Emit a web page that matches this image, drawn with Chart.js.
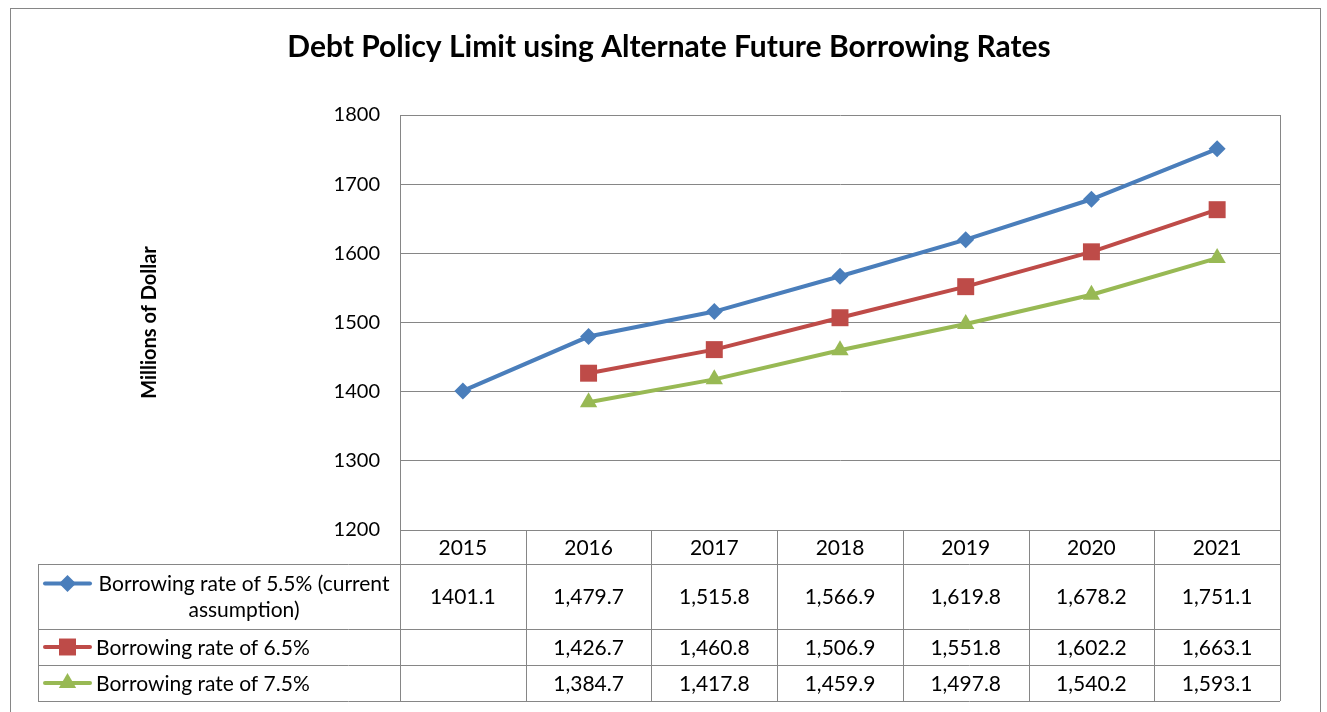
<!DOCTYPE html>
<html lang="en">
<head>
<meta charset="utf-8">
<title>Debt Policy Limit</title>
<script src="https://cdn.jsdelivr.net/npm/chart.js@4"></script>
<style>
  html, body { margin: 0; padding: 0; background: #fff; }
  #lienzo { width: 1327px; height: 712px; position: relative; }
</style>
</head>
<body>
<div id="lienzo"><canvas id="grafica"></canvas></div>
<script>
// ===== Datos =====
const anios = ["2015", "2016", "2017", "2018", "2019", "2020", "2021"];
const tasa55 = [1401.1, 1479.7, 1515.8, 1566.9, 1619.8, 1678.2, 1751.1];
const tasa65 = [null, 1426.7, 1460.8, 1506.9, 1551.8, 1602.2, 1663.1];
const tasa75 = [null, 1384.7, 1417.8, 1459.9, 1497.8, 1540.2, 1593.1];
const nombres = [
  "Borrowing rate of 5.5% (current assumption)",
  "Borrowing rate of 6.5%",
  "Borrowing rate of 7.5%"
];
const ejeMin = 1200;
const ejeMax = 1800;
const ejePaso = 100;
// la celda de 2015 viene sin separador de miles en la hoja original
const sinComa = [[0, 0]];

// ===== Estilos =====
const FUENTE = "Lato, 'Noto Sans', sans-serif";
const GRIS = "#868686";
const colores = ["#4a7ebb", "#be4b48", "#98b954"];
const marcadores = ["rectRot", "rect", "triangle"];
const radios = [8.5, 12, 10];

function formato(v, serie, col) {
  if (v === null) return "";
  const plano = sinComa.some(([s, c]) => s === serie && c === col);
  return plano ? v.toFixed(1) : v.toLocaleString("en-US", { minimumFractionDigits: 1, maximumFractionDigits: 1 });
}

// marcador de la leyenda, dibujado a mano
function dibujarMarcador(ctx, tipo, x, y, r, color) {
  ctx.save();
  ctx.fillStyle = color;
  ctx.beginPath();
  if (tipo === "rectRot") {
    ctx.moveTo(x, y - r); ctx.lineTo(x + r, y); ctx.lineTo(x, y + r); ctx.lineTo(x - r, y);
  } else if (tipo === "rect") {
    const s = r * Math.SQRT1_2;
    ctx.rect(x - s, y - s, 2 * s, 2 * s);
  } else {
    const h = r * Math.sqrt(3) / 2;
    ctx.moveTo(x, y - r); ctx.lineTo(x + h, y + r / 2); ctx.lineTo(x - h, y + r / 2);
  }
  ctx.closePath();
  ctx.fill();
  ctx.restore();
}

function partirTexto(ctx, texto, ancho) {
  const palabras = texto.split(" ");
  const lineas = [];
  let actual = "";
  palabras.forEach(p => {
    const prueba = actual ? actual + " " + p : p;
    if (ctx.measureText(prueba).width > ancho && actual) {
      lineas.push(actual);
      actual = p;
    } else {
      actual = prueba;
    }
  });
  lineas.push(actual);
  return lineas;
}

// ===== Marco exterior =====
const marco = {
  id: "marco",
  beforeDraw(chart) {
    const ctx = chart.ctx;
    ctx.save();
    ctx.strokeStyle = GRIS;
    ctx.lineWidth = 1;
    ctx.strokeRect(10.5, 8.5, 1310, 720);
    ctx.restore();
  }
};

// ===== Tabla de datos bajo el gráfico =====
const tablaDatos = {
  id: "tablaDatos",
  afterDraw(chart) {
    const ctx = chart.ctx;
    const area = chart.chartArea;
    const ejeX = chart.scales.x;
    const n = anios.length;
    const ancho = (area.right - area.left) / n;
    const altos = [34, 65, 36, 36];
    const filas = [Math.round(area.bottom)];
    altos.forEach(h => filas.push(filas[filas.length - 1] + h));
    const izqLeyenda = 38;
    const fondo = filas[filas.length - 1];

    ctx.save();
    ctx.strokeStyle = GRIS;
    ctx.lineWidth = 1;
    ctx.beginPath();
    // borde derecho del área de trazado
    ctx.moveTo(Math.round(area.right) + 0.5, area.top);
    ctx.lineTo(Math.round(area.right) + 0.5, fondo);
    // líneas verticales de columnas
    for (let k = 0; k <= n; k++) {
      const xv = Math.round(area.left + k * ancho) + 0.5;
      ctx.moveTo(xv, k === 0 ? area.top : filas[0]);
      ctx.lineTo(xv, fondo);
    }
    // columna de la leyenda
    ctx.moveTo(izqLeyenda + 0.5, filas[1]);
    ctx.lineTo(izqLeyenda + 0.5, fondo);
    // líneas horizontales
    ctx.moveTo(area.left, filas[0] + 0.5);
    ctx.lineTo(area.right, filas[0] + 0.5);
    for (let f = 1; f < filas.length; f++) {
      ctx.moveTo(izqLeyenda, filas[f] + 0.5);
      ctx.lineTo(area.right, filas[f] + 0.5);
    }
    ctx.stroke();

    ctx.fillStyle = "#000";
    ctx.font = "21px " + FUENTE;
    ctx.textAlign = "center";
    ctx.textBaseline = "middle";

    // encabezado con los años
    anios.forEach((a, i) => {
      ctx.fillText(a, ejeX.getPixelForValue(i), (filas[0] + filas[1]) / 2 + 1);
    });

    // filas de cada serie
    chart.data.datasets.forEach((ds, s) => {
      const yc = (filas[s + 1] + filas[s + 2]) / 2 + 1;
      ds.data.forEach((v, i) => {
        ctx.fillText(formato(v, s, i), ejeX.getPixelForValue(i), yc);
      });

      // leyenda: texto partido y centrado
      const izqTexto = 96;
      const anchoTexto = area.left - izqTexto - 8;
      const lineas = partirTexto(ctx, nombres[s], anchoTexto);
      const alto = 26;
      const y0 = yc - (lineas.length - 1) * alto / 2;
      lineas.forEach((l, j) => {
        if (lineas.length > 1) {
          ctx.textAlign = "center";
          ctx.fillText(l, izqTexto + anchoTexto / 2, y0 + j * alto);
        } else {
          ctx.textAlign = "left";
          ctx.fillText(l, izqTexto, y0);
        }
      });
      ctx.textAlign = "center";

      // clave de la leyenda
      const yk = y0 - 1;
      ctx.strokeStyle = colores[s];
      ctx.lineWidth = 4;
      ctx.lineCap = "round";
      ctx.beginPath();
      ctx.moveTo(45, yk);
      ctx.lineTo(90, yk);
      ctx.stroke();
      dibujarMarcador(ctx, marcadores[s], 67.5, yk, radios[s], colores[s]);
    });
    ctx.restore();
  }
};

// ===== Gráfica =====
function serie(i, datos) {
  return {
    label: nombres[i],
    data: datos,
    borderColor: colores[i],
    backgroundColor: colores[i],
    borderWidth: 4,
    pointStyle: marcadores[i],
    pointRadius: radios[i],
    pointBackgroundColor: colores[i],
    pointBorderColor: colores[i],
    pointBorderWidth: 0,
    tension: 0
  };
}

new Chart(document.getElementById("grafica"), {
  type: "line",
  data: {
    labels: anios,
    datasets: [serie(0, tasa55), serie(1, tasa65), serie(2, tasa75)]
  },
  options: {
    responsive: true,
    maintainAspectRatio: false,
    animation: false,
    layout: { padding: { top: 0, left: 58, right: 47, bottom: 182 } },
    plugins: {
      legend: { display: false },
      tooltip: { enabled: false },
      title: {
        display: true,
        text: "Debt Policy Limit using Alternate Future Borrowing Rates",
        color: "#000",
        font: { family: FUENTE, size: 30, weight: "bold" },
        padding: { top: 29, bottom: 50 }
      }
    },
    scales: {
      x: {
        display: false,
        offset: true
      },
      y: {
        min: ejeMin,
        max: ejeMax,
        ticks: {
          stepSize: ejePaso,
          color: "#000",
          padding: 20,
          font: { family: FUENTE, size: 20 },
          callback: v => String(v)
        },
        grid: { color: GRIS, drawTicks: false },
        border: { color: GRIS },
        title: {
          display: true,
          text: "Millions of Dollar",
          color: "#000",
          font: { family: FUENTE, size: 20, weight: "bold" },
          padding: { top: 80, bottom: 0 }
        },
        afterFit(escala) { escala.width = 342; }
      }
    }
  },
  plugins: [marco, tablaDatos]
});
</script>
</body>
</html>
